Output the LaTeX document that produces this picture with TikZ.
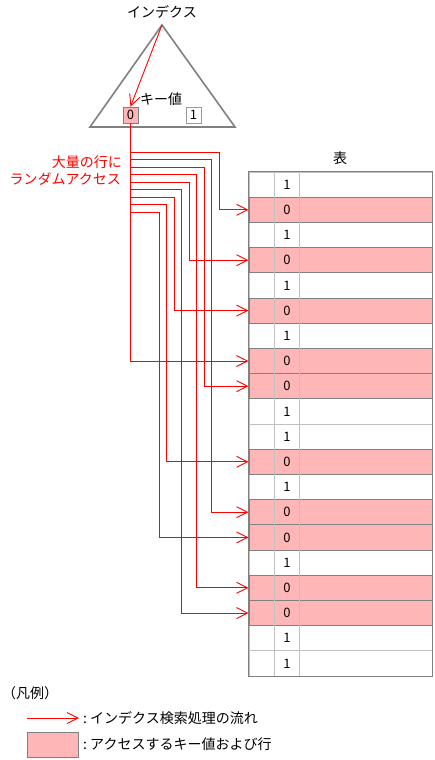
\documentclass[tikz,border=0pt]{standalone}
\usepackage{fontspec}
\setmainfont{Noto Sans CJK JP}
\usepackage{tikz}
\usetikzlibrary{arrows.meta,calc,positioning}
\definecolor{keypink}{RGB}{255,182,182}
\definecolor{lineGray}{RGB}{128,128,128}
\definecolor{sepGray}{RGB}{192,192,192}
\def\keyvals{1,0,1,0,1,0,1,0,0,1,1,0,1,0,0,1,0,0,1,1}

\begin{document}
\begin{tikzpicture}[x=1pt, y=-1pt,
    font=\fontsize{14}{16}\selectfont,
    flow/.style={draw=red, line width=0.9pt, -{Straight Barb[length=11pt, width=11pt]}},
    keybox/.style={draw=lineGray, line width=0.8pt, minimum width=15pt, minimum height=16pt, inner sep=0pt, font=\fontsize{13}{13}\selectfont},
    rowbox/.style={draw=sepGray, line width=1pt, minimum width=183pt, minimum height=25.2pt, inner sep=0pt}
]
\useasboundingbox (0,0) rectangle (435,760);

% index tree
\coordinate (apex) at (162,25);
\draw[lineGray, line width=1.6pt] (apex) -- (235,127) -- (90,127) -- cycle;
\node (idxTitle) at (162,12) {インデクス};
\node (keyLabel) at (161,99) {キー値};
\node[keybox, fill=keypink] (k0) at (130.5,115) {0};
\node[keybox, fill=white, draw=sepGray!80!black] (k1) at (193.5,115) {1};
\draw[flow] (apex) -- (k0.north);

% table
\node (tblTitle) at (340,158) {表};
\foreach \v [count=\i] in \keyvals
    \node[rowbox] (r\i) at (340.5, {172+25.2*(\i-0.5)}) {};
\foreach \v [count=\i] in \keyvals {
    \ifnum\v=0 \node[rowbox, fill=keypink, draw=lineGray] at (r\i) {}; \fi
}
\draw[sepGray, line width=1.5pt] ($(r1.north west)+(26,0)$) -- ($(r20.south west)+(26,0)$);
\draw[sepGray, line width=1.5pt] ($(r1.north west)+(51,0)$) -- ($(r20.south west)+(51,0)$);
\foreach \v [count=\i] in \keyvals
    \node[font=\fontsize{13}{13}\selectfont] (n\i) at ($(r\i.west)+(38.5,0)$) {\v};
\draw[lineGray, line width=1.6pt] (r1.north west) rectangle (r20.south east);

% random access
\node[red, anchor=east, inner sep=0pt] (randA) at (122,162) {大量の行に};
\node[red, anchor=east, inner sep=0pt] (randB) at (121,179) {ランダムアクセス};
\draw[flow] (k0.south) |- (r8.west);
\foreach \t [count=\j from 0] in {2,14,9,17,4,18,6,12,15}
    \draw[flow] (k0.south) |- ({219-7.5*\j}, {152+7.5*\j}) |- (r\t.west);

% legend
\node (legTitle) at (30,693) {（凡例）};
\coordinate (legA) at (27,718);
\coordinate (legB) at (79,718);
\draw[flow] (legA) -- (legB);
\node[anchor=west, inner sep=0pt] (legFlow) at (83,718) {:\ インデクス検索処理の流れ};
\node[draw=lineGray, line width=1pt, fill=keypink, minimum width=51pt, minimum height=25pt] (legBox) at (52.5,744.5) {};
\node[anchor=west, inner sep=0pt] (legKey) at (83,744) {:\ アクセスするキー値および行};
\end{tikzpicture}
\end{document}
